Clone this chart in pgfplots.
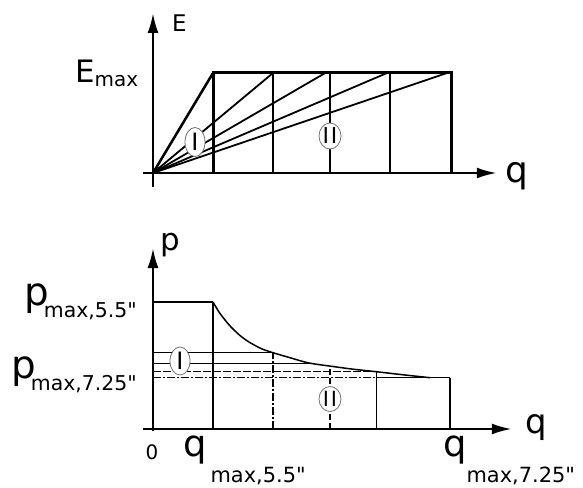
\documentclass[border=0pt]{standalone}
\usepackage{pgfplots}
\pgfplotsset{compat=1.18}
\usepackage{fontspec}
\setmainfont{DejaVu Sans}
\newfontfamily\plainfont{DejaVu Sans}
\usetikzlibrary{arrows.meta,shapes.geometric}
\newcommand{\fs}[1]{\fontsize{#1}{#1}\selectfont}
\newcommand{\dq}{{\plainfont\symbol{"22}}}
\tikzset{circ/.style={ellipse, draw=black!55, line width=0.8bp, fill=white, inner sep=0pt}}
\pgfplotsset{myax/.style={x=60bp,y=100bp,axis lines=middle,
  axis line style={line width=2.5bp,-{Latex[length=20bp,width=11bp]}},
  xtick=\empty, ytick=\empty, clip=false}}
\begin{document}
\begin{tikzpicture}
\useasboundingbox (-153bp,-315bp) rectangle (430bp,173bp);
% ---------- top chart: E over q ----------
\begin{axis}[myax, at={(0,0)}, anchor=origin, xmin=-0.17, xmax=5.73, ymin=-0.14, ymax=1.6]
\addplot[line width=1.8bp] coordinates {(0,0)(2,1)};
\addplot[line width=1.8bp] coordinates {(0,0)(2.87,1)};
\addplot[line width=1.8bp] coordinates {(0,0)(3.9,1)};
\addplot[line width=1.8bp] coordinates {(0,0)(4.9,1)};
\addplot[line width=1.5bp] coordinates {(2,0)(2,1)};
\addplot[line width=1.5bp] coordinates {(2.95,0)(2.95,1)};
\addplot[line width=1.5bp] coordinates {(3.95,0)(3.95,1)};
\addplot[line width=2.5bp] coordinates {(0,0)(1,1)};
\addplot[line width=3bp] coordinates {(1,0)(1,1)(4.98,1)(4.98,0)};
\node[circ, minimum width=20bp, minimum height=29bp, font=\fs{24}] at (axis cs:0.7,0.31) {I};
\node[circ, minimum width=22bp, minimum height=26bp, font=\fs{22}] at (axis cs:2.95,0.37) {I\hspace{2bp}I};
\end{axis}
% ---------- bottom chart: p over q ----------
\begin{axis}[myax, at={(0,-256bp)}, anchor=origin, xmin=-0.17, xmax=5.98, ymin=-0.02, ymax=1.81]
\addplot[line width=1.5bp] coordinates {(0,1.27)(1,1.27)};
\addplot[line width=2bp] coordinates {(1,0)(1,1.27)};
\addplot[line width=1.5bp, smooth] coordinates {(1,1.27)(1.1,1.17)(1.2,1.09)(1.3,1.02)(1.45,0.935)(1.6,0.87)(1.8,0.805)(2,0.763)(2.3,0.71)(2.6,0.66)(3,0.625)(3.35,0.597)(3.72,0.573)(4.2,0.54)(4.62,0.513)};
\addplot[line width=1.2bp] coordinates {(0,0.763)(2,0.763)};
\addplot[line width=1.8bp] coordinates {(0,0.655)(2.6,0.655)};
\addplot[line width=1.4bp, dash pattern=on 8bp off 2bp] coordinates {(0,0.573)(3.72,0.573)};
\addplot[line width=1.4bp, dash pattern=on 8bp off 2bp on 2bp off 2bp] coordinates {(0,0.513)(3.72,0.513)};
\addplot[line width=1.2bp] coordinates {(3.72,0.513)(4.95,0.513)};
\addplot[line width=1.4bp, dash pattern=on 8bp off 2bp on 2bp off 2bp] coordinates {(2,0)(2,0.763)};
\addplot[line width=1.2bp, dash pattern=on 6bp off 3bp] coordinates {(2.95,0)(2.95,0.62)};
\addplot[line width=1.2bp] coordinates {(3.72,0)(3.72,0.573)};
\addplot[line width=1.2bp] coordinates {(4.95,0)(4.95,0.513)};
\node[circ, minimum width=20bp, minimum height=28bp, font=\fs{24}] at (axis cs:0.45,0.68) {I};
\node[circ, minimum width=22bp, minimum height=25bp, font=\fs{21}] at (axis cs:2.95,0.30) {I\hspace{2bp}I};
\end{axis}
% ---------- labels ----------
\node[anchor=base west, inner sep=0pt] at (19bp,141bp) {\fs{23}E};
\node[anchor=base west, inner sep=0pt] at (-78bp,90bp) {\fs{31}E\raisebox{-4bp}{\fs{20}max}};
\node[anchor=base west, inner sep=0pt] at (352bp,-9bp) {\fs{36}q};
\node[anchor=base west, inner sep=0pt] at (7bp,-77bp) {\fs{31}p};
\node[anchor=base west, inner sep=0pt] at (-129bp,-132bp) {\fs{39}p\hspace{-5bp}\raisebox{-12bp}{\fs{20.5}max,5.5\dq}};
\node[anchor=base west, inner sep=0pt] at (-142bp,-205bp) {\fs{39}p\hspace{-5bp}\raisebox{-12bp}{\fs{20.5}max,7.25\dq}};
\node[anchor=center, inner sep=0pt] at (-1bp,-279bp) {\fs{20}0};
\node[anchor=base west, inner sep=0pt] at (30bp,-283bp) {\fs{37}q\hspace{4bp}\raisebox{-26bp}{\fs{21}max,5.5\dq}};
\node[anchor=base west, inner sep=0pt] at (290bp,-283bp) {\fs{37}q\raisebox{-26bp}{\fs{21}max,7.25\dq}};
\node[anchor=base west, inner sep=0pt] at (372bp,-260bp) {\fs{34}q};
\end{tikzpicture}
\end{document}
